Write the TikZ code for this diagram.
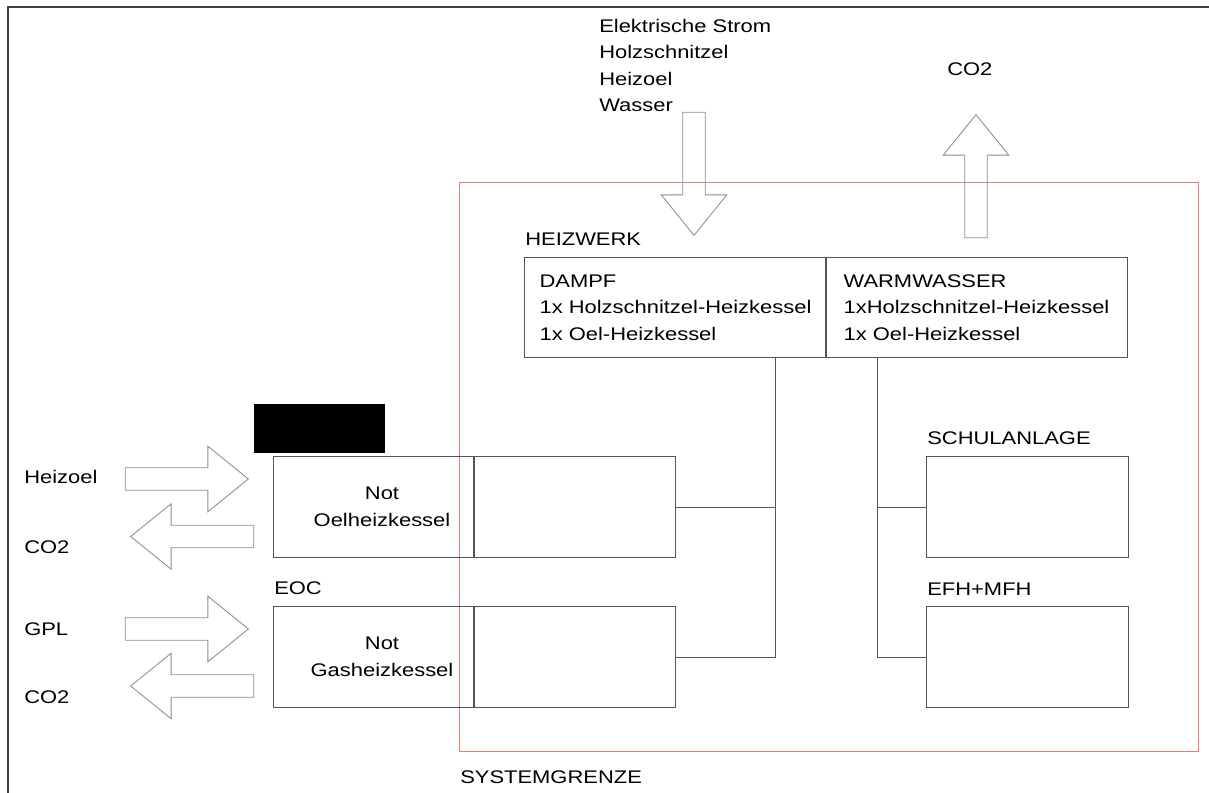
\documentclass[tikz,border=0pt]{standalone}
\usepackage{fontspec}
\setmainfont{Liberation Sans}[FakeStretch=1.2]
\usetikzlibrary{shapes.arrows}
\newcommand{\diafont}{\fontsize{13}{18.8}\selectfont}
\definecolor{boxgray}{HTML}{555555}
\definecolor{arrowgray}{HTML}{8C8C8C}
\definecolor{grenzred}{HTML}{EE7A7A}
\tikzset{
	block/.style={draw=boxgray, line width=0.7pt, minimum width=5.025cm, minimum height=2.5cm, inner sep=0pt},
	plant/.style={draw=boxgray, line width=0.7pt, minimum width=7.525cm, minimum height=2.475cm, inner sep=0pt, align=left},
	tag/.style={anchor=base west, inner sep=0pt},
	fatarrow/.style={draw=arrowgray, line width=0.6pt, single arrow, single arrow head extend=0.5375cm,
		single arrow tip angle=78, inner xsep=0pt, inner ysep=0.27cm, minimum height=3.075cm},
	link/.style={draw=boxgray, line width=0.7pt},
	pageframe/.style={draw=black!75, line width=1.2pt}
}
\begin{document}
\begin{tikzpicture}[x=0.025cm, y=-0.025cm, every node/.style={font=\diafont}]
		\useasboundingbox (0,0) rectangle (1209,793);
		
		%Page frame
		\draw[pageframe] (8,793) -- (8,7) -- (1209,7);
		
		%System boundary
		\node (systemBox) at (829,466.5) [draw=grenzred, line width=0.6pt, minimum width=18.45cm, 
		minimum height=14.225cm, inner sep=0pt]{};
		\node (systemLabel) at (460,783) [tag]{SYSTEMGRENZE};
		
		%Heating plant
		\node (heizwerkLabel) at (525,246) [tag]{HEIZWERK};
		\node (dampf) at (675.5,307.5) [plant]{DAMPF\\1x Holzschnitzel-Heizkessel\\1x Oel-Heizkessel};
		\node (warmwasser) at (976.5,307.5) [plant]{WARMWASSER\\1xHolzschnitzel-Heizkessel\\1x Oel-Heizkessel};
		
		%Inputs and outputs at the top (base of a multi-line node is its last line)
		\node (supplyText) at (599,111.5) [tag, align=left]{Elektrische Strom\\Holzschnitzel\\Heizoel\\Wasser};
		\node (supplyArrow) at (694,236) [fatarrow, rotate=-90, anchor=tip]{};
		\node (co2TopLabel) at (947,76) [tag]{CO2};
		\node (co2TopArrow) at (976,114) [fatarrow, rotate=90, anchor=tip]{};
		
		%Emergency boilers
		\node (hiddenLabel) at (319.5,428.5) [fill=black, minimum width=3.275cm, minimum height=1.225cm, 
		inner sep=0pt]{};
		\node (oelLeft) at (374,507) [block, minimum width=5cm]{};
		\node (oelRight) at (574.5,507) [block]{};
		\node (oelText) at (382,507) [align=center]{Not\\Oelheizkessel};
		
		\node (eocLabel) at (274,594) [tag]{EOC};
		\node (gasLeft) at (374,657) [block, minimum width=5cm]{};
		\node (gasRight) at (574.5,657) [block]{};
		\node (gasText) at (382,657) [align=center]{Not\\Gasheizkessel};
		
		%Fuel in, CO2 out
		\node (heizoelLabel) at (24,483) [tag]{Heizoel};
		\node (heizoelArrow) at (249,479) [fatarrow, anchor=tip]{};
		\node (co2OelLabel) at (24,553) [tag]{CO2};
		\node (co2OelArrow) at (130,536.5) [fatarrow, rotate=180, anchor=tip]{};
		
		\node (gplLabel) at (24,635) [tag]{GPL};
		\node (gplArrow) at (249,629) [fatarrow, anchor=tip]{};
		\node (co2GasLabel) at (24,703) [tag]{CO2};
		\node (co2GasArrow) at (130,686) [fatarrow, rotate=180, anchor=tip]{};
		
		%Consumers
		\node (schulLabel) at (927,444) [tag]{SCHULANLAGE};
		\node (schul) at (1027.5,507) [block]{};
		\node (efhLabel) at (927,595) [tag]{EFH+MFH};
		\node (efh) at (1027.5,657) [block]{};
		
		%Links
		\coordinate (dampfOut) at (775,357);
		\coordinate (warmOut) at (877,357);
		\draw[link] (dampfOut) |- (gasRight.east);
		\draw[link] (oelRight.east) -- (oelRight.east -| dampfOut);
		\draw[link] (warmOut) |- (efh.west);
		\draw[link] (schul.west) -- (schul.west -| warmOut);
		
\end{tikzpicture}
\end{document}
